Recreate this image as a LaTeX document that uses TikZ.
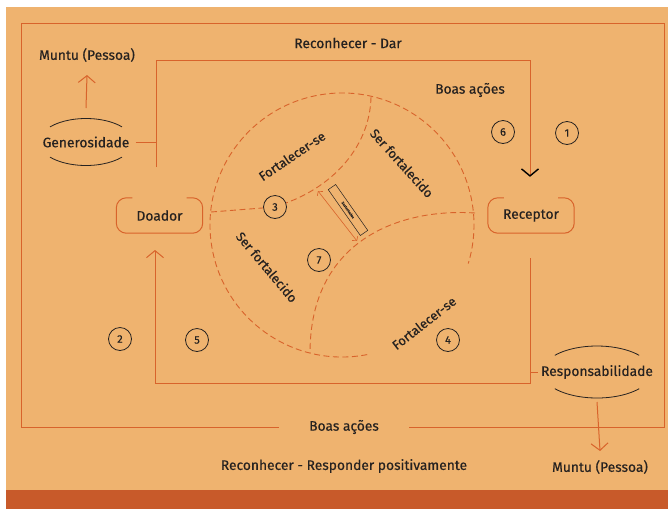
\documentclass[tikz,border=0pt]{standalone}
\usepackage{fontspec}
\setmainfont{Fira Sans}[FakeBold=0.4,AutoFakeBold=0.4]
\usepackage{xcolor}
\usepackage{tikz}
\usetikzlibrary{positioning,arrows.meta,calc}
\definecolor{bgorange}{HTML}{EFB36F}
\definecolor{lineorange}{HTML}{D8632B}
\definecolor{bandorange}{HTML}{C85A2A}
\definecolor{inkgray}{HTML}{262220}

\begin{document}
\begin{tikzpicture}[x=1pt,y=-1pt,
	line/.style={draw=lineorange,line width=1pt},
	dline/.style={draw=lineorange,line width=0.9pt,dash pattern=on 6pt off 3.5pt},
	lbl/.style={text=inkgray,font=\fontsize{13.8}{15}\selectfont,inner sep=1pt},
	rlbl/.style={lbl,font=\fontsize{13}{15}\selectfont},
	num/.style={circle,draw=inkgray,line width=0.8pt,minimum size=23pt,inner sep=0pt,text=inkgray,font=\fontsize{11}{12}\selectfont},
	tip/.style={-{Straight Barb[length=7pt,width=17pt]}},
	ring/.style={draw=inkgray,line width=0.8pt},
	]
	\useasboundingbox (0,0) rectangle (668,509);
	\fill[white] (0,0) rectangle (668,509);
	\fill[bgorange] (6,7) rectangle (668,490);
	\fill[bandorange] (6,490) rectangle (668,509);

	% texts
	\node[lbl] (dar) at (348,43) {Reconhecer - Dar};
	\node[lbl] (muntuA) at (87,55) {Muntu (Pessoa)};
	\node[lbl] (gen) at (86,142) {Generosidade};
	\node[lbl] (boasA) at (470,90) {Boas ações};
	\node[lbl,minimum width=86pt,minimum height=35pt] (doador) at (159.5,215.5) {Doador};
	\node[lbl,minimum width=86pt,minimum height=35pt] (receptor) at (531,215.5) {Receptor};
	\node[lbl] (resp) at (597,372) {Responsabilidade};
	\node[lbl,inner xsep=30pt] (boasB) at (344,427) {Boas ações};
	\node[lbl] (resposta) at (344,466) {Reconhecer - Responder positivamente};
	\node[lbl] (muntuB) at (600,467) {Muntu (Pessoa)};

	\node[rlbl,rotate=34] (forteA) at (292,156) {Fortalecer-se};
	\node[rlbl,rotate=-48] (serA) at (402,163) {Ser fortalecido};
	\node[rlbl,rotate=-50] (serB) at (267,267) {Ser fortalecido};
	\node[rlbl,rotate=38] (forteB) at (424,323) {Fortalecer-se};
	\node[draw=inkgray,line width=0.5pt,rotate=-55,text=inkgray,font=\fontsize{3.5}{4}\selectfont,minimum width=56pt,minimum height=9pt,inner sep=1pt] (sust) at (348,210) {Sustentados};

	% numbers
	\node[num] (n1) at (567,133) {1};
	\node[num] (n2) at (120,339) {2};
	\node[num] (n3) at (275,207) {3};
	\node[num] (n4) at (448,340) {4};
	\node[num] (n5) at (197,340) {5};
	\node[num] (n6) at (503,132) {6};
	\node[num] (n7) at (319,260) {7};

	% outer frame
	\draw[line] (boasB.west) -- (21,427) -- (21,23) -- (664,23) -- (664,427) -- (boasB.east);

	% Reconhecer - Dar
	\coordinate (vlow) at (156,167);
	\coordinate (topL) at (156,60);
	\coordinate (topR) at (530,60);
	\draw[line,-{Straight Barb[color=black,length=7pt,width=17pt,line width=1.4pt]}] (vlow) -- (topL) -- (topR) -- ([yshift=21pt]receptor.north -| topR);
	\draw[line] ([xshift=5pt]gen.east) -- (gen.east -| topL);
	\draw[line,tip] ([yshift=34pt]gen.center) -- ([yshift=-12pt]muntuA.south);

	% Responder
	\coordinate (botR) at (530,383);
	\coordinate (botL) at (155,383);
	\coordinate (dtip) at (155,250);
	\draw[line,tip] ([yshift=-25pt]receptor.south -| botR) -- (botR) -- (botL) -- (dtip);
	\draw[line] (resp.west -| botR) -- ([xshift=-2pt]resp.west);
	\draw[line,tip] ([yshift=-30pt]resp.center) -- ([yshift=8pt]muntuB.north);

	% boxes
	\draw[line,rounded corners=10pt] ([xshift=16pt]doador.north west) -- (doador.north west) -- (doador.south west) -- (doador.south east) -- (doador.north east) -- ([xshift=-16pt]doador.north east);
	\draw[line,rounded corners=10pt] ([xshift=16pt]receptor.north west) -- (receptor.north west) -- (receptor.south west) -- (receptor.south east) -- (receptor.north east) -- ([xshift=-16pt]receptor.north east);

	% rings
	\draw[ring] (gen.center) ++(-140:47 and 23.5) arc (-140:-40:47 and 23.5);
	\draw[ring] (gen.center) ++(40:47 and 23.5) arc (40:140:47 and 23.5);
	\draw[ring] (resp.center) ++(-140:55 and 26) arc (-140:-40:55 and 26);
	\draw[ring] (resp.center) ++(40:55 and 26) arc (40:140:55 and 26);

	% circle
	\coordinate (o) at (342,225);
	\coordinate (cl) at (211,212);
	\coordinate (ua) at (371,97);
	\coordinate (la) at (475,213);
	\coordinate (lb) at (310,353);
	\draw[dline] (o) ++(79:132) arc (79:377:132);
	\draw[dline] (cl) -- (n3);
	\draw[dline] (ua) .. controls (370,145) and (335,185) .. (n3);
	\draw[dline] (la) .. controls (400,208) and (310,240) .. (lb);

	\coordinate (sa) at (318,191);
	\coordinate (sb) at (357,241);
	\draw[lineorange,line width=0.6pt,{Straight Barb[length=3pt,width=7pt]}-{Straight Barb[length=3pt,width=7pt]}] (sa) -- (sb);
\end{tikzpicture}
\end{document}
